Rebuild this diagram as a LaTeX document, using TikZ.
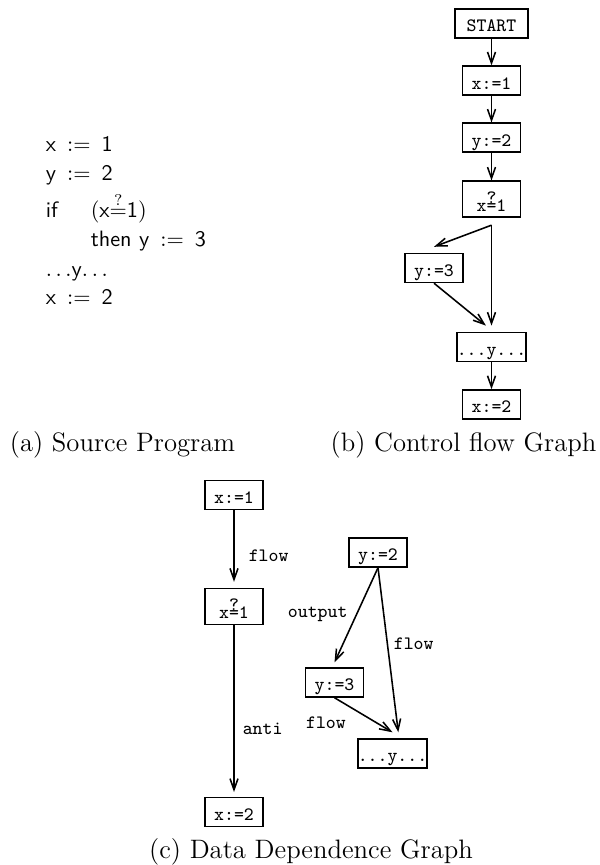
\documentclass[tikz,border=0pt]{standalone}
\usepackage{tikz}
\usetikzlibrary{positioning, arrows.meta}

\newcommand{\qeq}{\rlap{\raisebox{0.42em}{?}}=}

\begin{document}
\begin{tikzpicture}[x=0.45pt, y=-0.45pt, node distance=25.7pt, line width=0.7pt,
		>={Straight Barb[length=5pt, width=3.6pt]},
		stmt/.style={draw, rectangle, inner xsep=0pt, inner ysep=0pt, minimum width=26pt,
			text height=10.3pt, text depth=2.7pt, font=\fontsize{8.5}{10}\selectfont\ttfamily},
		dep/.style={font=\fontsize{8.5}{10}\selectfont\ttfamily, inner sep=1pt},
		code/.style={anchor=base west, inner sep=0pt, font=\fontsize{10}{12}\selectfont\sffamily},
		caption/.style={anchor=base, inner sep=0pt, font=\fontsize{12}{14}\selectfont}]
		\useasboundingbox (0,0) rectangle (599,865);

		% (a) Source program
		\node[code] (l1) at (45,151.7) {x\enspace$:=$\enspace1};
		\node[code] (l2) at (45,181) {y\enspace$:=$\enspace2};
		\node[code] (l3) at (45,218) {if};
		\node[code] (l3b) at (90,218) {$($x$\stackrel{?}{=}$1$)$};
		\node[code] (l4) at (90,246.7) {then y\enspace$:=$\enspace3};
		\node[code] (l5) at (45,276.7) {$\ldots$y$\ldots$};
		\node[code] (l6) at (45,305) {x\enspace$:=$\enspace2};

		% (b) Control flow graph
		\node[stmt, minimum width=32.9pt] (start) at (491.5,23.5) {START};
		\node[stmt, below of=start] (x1) {x:=1};
		\node[stmt, below of=x1] (y2) {y:=2};
		\node[stmt, below of=y2, node distance=27.7pt, text height=13.5pt] (test) {x\qeq1};
		\node[stmt] (y3) at (434,268) {y:=3};
		\node[stmt, below of=test, node distance=66.4pt] (use) {...y...};
		\node[stmt, below of=use, node distance=25.9pt] (x2) {x:=2};
		\coordinate[below=3.2pt of test] (split);

		\draw[->] (start) -- (x1);
		\draw[->] (x1) -- (y2);
		\draw[->] (y2) -- (test);
		\draw[->] (split) -- ([yshift=2.7pt]y3.north);
		\draw[->] (split) -- ([yshift=2.7pt]use.north);
		\draw[->] (y3.south) -- ([shift={(-2.5pt,2.7pt)}]use.north);
		\draw[->] (use) -- (x2);

		% (c) Data dependence graph
		\node[stmt] (dx1) at (234,495) {x:=1};
		\node[stmt, below of=dx1, node distance=50.2pt, text height=13.5pt] (dtest) {x\qeq1};
		\node[stmt, below of=dtest, node distance=92.5pt] (dx2) {x:=2};
		\node[stmt] (dy2) at (378,552.5) {y:=2};
		\node[stmt] (dy3) at (334.5,682.5) {y:=3};
		\node[stmt] (duse) at (392.5,753.5) {...y...};

		\draw[->] (dx1) -- node[dep, pos=0.64, right=5.3pt] {flow} ([yshift=2.7pt]dtest.north);
		\draw[->] (dtest) -- node[dep, pos=0.62, right=2.6pt] {anti} ([yshift=2.2pt]dx2.north);
		\draw[->] (dy2.south) -- node[dep, pos=0.49, left=2.8pt] {output} ([yshift=2.2pt]dy3.north);
		\draw[->] (dy2.south) -- node[dep, pos=0.46, right=1.6pt] {flow} ([shift={(2.6pt,2.7pt)}]duse.north);
		\draw[->] (dy3.south) -- node[dep, pos=0.3, below left=2.8pt and 1.4pt] {flow} ([yshift=2.7pt]duse.north);

		% Captions
		\node[caption] (capa) at (122.5,451) {(a) Source Program};
		\node[caption] (capb) at (463.5,451) {(b) Control flow Graph};
		\node[caption] (capc) at (311,858) {(c) Data Dependence Graph};
	\end{tikzpicture}
\end{document}
